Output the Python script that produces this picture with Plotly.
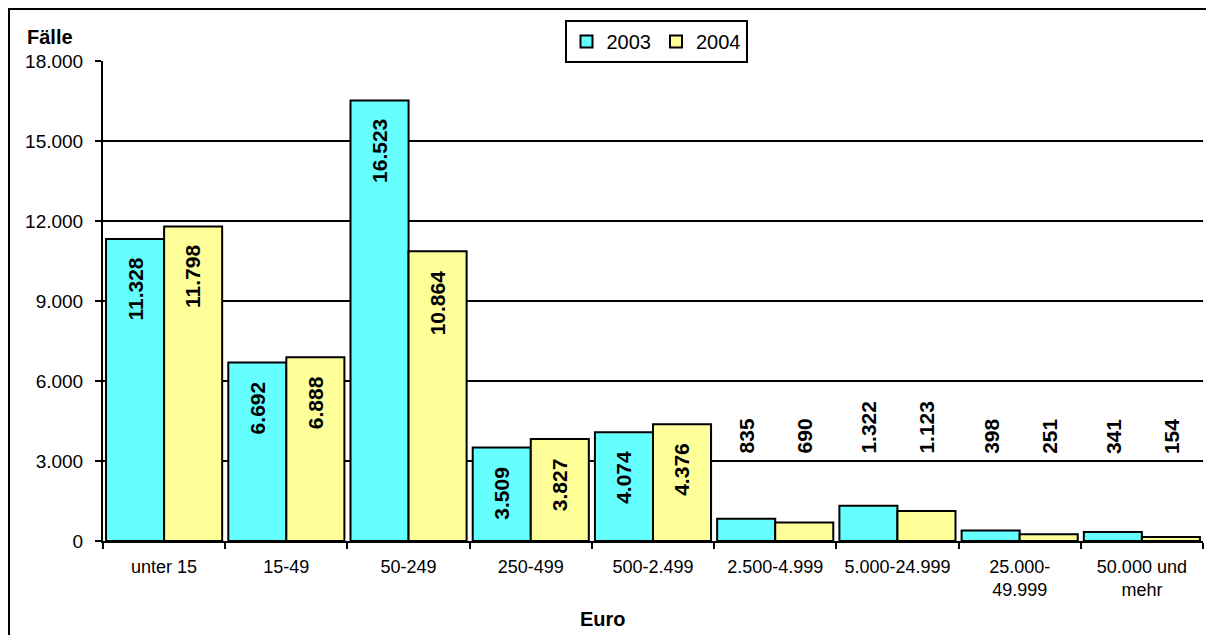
import plotly.graph_objects as go

categories = ["unter 15", "15-49", "50-249", "250-499", "500-2.499", "2.500-4.999",
              "5.000-24.999", "25.000-<br>49.999", "50.000 und<br>mehr"]
values_2003 = [11328, 6692, 16523, 3509, 4074, 835, 1322, 398, 341]
values_2004 = [11798, 6888, 10864, 3827, 4376, 690, 1123, 251, 154]
series_names = ["2003", "2004"]
y_ticks = [0, 3000, 6000, 9000, 12000, 15000, 18000]

COLORS = ["#66FFFF", "#FFFF99"]
FONT = "Liberation Sans, Arial, sans-serif"
OUTSIDE_THRESHOLD = 2500
OUTSIDE_LABEL_Y = 3200

# page body has an 8px margin: figure is drawn at (8, 8)
W, H = 1206, 627
L, T, R, B = 95, 53, 11, 94
PW, PH = W - L - R, H - T - B


def px_x(x):
    return (x - 8 - L) / PW


def px_y(y):
    return (H - B - (y - 8)) / PH


def fmt(v):
    return f"{v:,}".replace(",", ".")


fig = go.Figure()
for name, vals, col in zip(series_names, [values_2003, values_2004], COLORS):
    fig.add_trace(go.Bar(
        x=categories, y=vals, name=name,
        marker=dict(color=col, line=dict(color="black", width=2)),
        hoverinfo="x+y",
    ))

annotations = []
for s, vals in enumerate([values_2003, values_2004]):
    shift = -29 if s == 0 else 29
    for c, v in zip(categories, vals):
        if v >= OUTSIDE_THRESHOLD:
            annotations.append(dict(x=c, y=v, xref="x", yref="y", text=f"<b>{fmt(v)}</b>",
                                    showarrow=False, textangle=-90, xanchor="center",
                                    yanchor="top", xshift=shift, yshift=-17,
                                    font=dict(family=FONT, size=21, color="black")))
        else:
            annotations.append(dict(x=c, y=OUTSIDE_LABEL_Y, xref="x", yref="y",
                                    text=f"<b>{fmt(v)}</b>", showarrow=False, textangle=-90,
                                    xanchor="center", yanchor="bottom", xshift=shift,
                                    font=dict(family=FONT, size=21, color="black")))

annotations.append(dict(x=px_x(25), y=px_y(37), xref="paper", yref="paper", text="<b>Fälle</b>",
                        showarrow=False, xanchor="left", yanchor="middle",
                        font=dict(family=FONT, size=20, color="black")))
annotations.append(dict(x=px_x(603), y=px_y(619), xref="paper", yref="paper", text="<b>Euro</b>",
                        showarrow=False, xanchor="center", yanchor="middle",
                        font=dict(family=FONT, size=20, color="black")))

fig.update_layout(
    width=W, height=H,
    margin=dict(l=L, r=R, t=T, b=B),
    paper_bgcolor="white", plot_bgcolor="white",
    barmode="group", bargap=0.05, bargroupgap=0,
    separators=",.",
    font=dict(family=FONT, size=18, color="black"),
    showlegend=True,
    legend=dict(orientation="h", x=px_x(656), y=px_y(20), xanchor="center", yanchor="top",
                bordercolor="black", borderwidth=2, bgcolor="white",
                font=dict(family=FONT, size=20, color="black"),
                itemwidth=30, tracegroupgap=0),
    annotations=annotations,
    shapes=[dict(type="rect", xref="paper", yref="paper", x0=px_x(9), x1=1.2, y0=-0.5,
                 y1=px_y(9), line=dict(color="black", width=2),
                 fillcolor="rgba(0,0,0,0)", layer="below")],
)
fig.update_xaxes(showline=True, linecolor="black", linewidth=2, ticks="outside",
                 tickson="boundaries", ticklen=6, tickwidth=2, tickcolor="black",
                 showgrid=False, tickfont=dict(family=FONT, size=18), tickangle=0,
                 ticklabelstandoff=8)
fig.update_yaxes(range=[0, 18000], tickvals=y_ticks, tickformat=",d",
                 showline=True, linecolor="black", linewidth=2, ticks="outside",
                 ticklen=6, tickwidth=2, tickcolor="black",
                 showgrid=True, gridcolor="black", gridwidth=2, zeroline=False,
                 tickfont=dict(family=FONT, size=19), ticklabelstandoff=8)

fig.write_html("out.html")
